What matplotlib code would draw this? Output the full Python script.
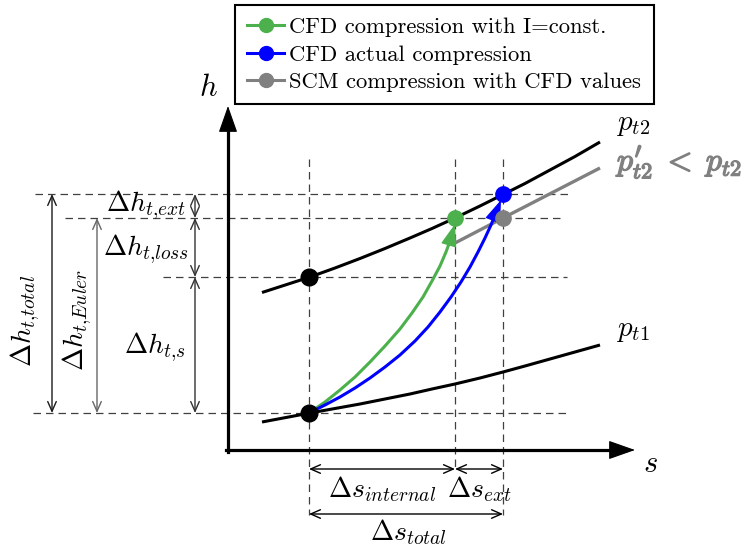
import matplotlib
matplotlib.use("Agg")
import matplotlib.pyplot as plt
from matplotlib.lines import Line2D
import matplotlib.patheffects as pe

plt.rcParams['mathtext.fontset'] = 'cm'

# ---- diagram data (image coordinates: s to the right, h downward in pixels) ----
# isobar p_t1
pt1_s = [262, 310, 335, 360, 385, 410, 432, 455, 480, 503, 525, 550, 575, 600]
pt1_h = [422, 413, 408.5, 404, 399, 394, 389, 384, 378, 372, 366, 359, 352, 345]
# isobar p_t2
pt2_s = [262, 310, 335, 360, 385, 410, 432, 455, 480, 503, 525, 550, 575, 600]
pt2_h = [292.5, 277, 268, 258.5, 248.5, 238, 228.5, 218, 206, 194.5, 183.5, 170, 156.5, 142]
# reduced isobar p'_t2 (SCM)
pt2p_s = [455, 503, 600]
pt2p_h = [243, 218, 168]
# CFD compression with I=const. (green)
green_s = [309, 325, 340, 355, 370, 385, 400, 412, 423, 432, 440, 446, 450, 453]
green_h = [413, 402, 390, 377, 362, 346, 329, 313, 297, 281, 266, 252, 241, 232]
# CFD actual compression (blue)
blue_s = [309, 325, 340, 355, 370, 385, 400, 415, 428, 440, 451, 461, 470, 478, 485, 491, 495]
blue_h = [413, 405, 397, 388, 378, 367, 355, 341, 327, 312, 297, 282, 267, 252, 238, 225, 215]
# state points
black_pts_s = [309, 309]
black_pts_h = [413, 277]
green_pt = (455, 218)
blue_pt = (503, 194)
gray_pt = (503, 218)

# dashed helper lines
hdash = [(194, 35, 570), (218, 65, 565), (277, 163, 567), (413, 33, 570)]
vdash = [(309, 159, 515), (455, 159, 470), (503, 159, 515)]

GREEN = '#4CB04C'
BLUE = '#0000FF'
GRAY = '#808080'

fig = plt.figure(figsize=(7.5, 5.48), dpi=100)
ax = fig.add_axes([0, 0, 1, 1])
ax.set_xlim(0, 750)
ax.set_ylim(548, 0)
ax.axis('off')

# dashed lines
for y, x0, x1 in hdash:
    ax.plot([x0, x1], [y, y], ls=(0, (6, 4)), color='0.25', lw=0.9, zorder=1)
for x, y0, y1 in vdash:
    ax.plot([x, x], [y0, y1], ls=(0, (6, 4)), color='0.25', lw=0.9, zorder=1)

HEAD = '-|>,head_length=0.85,head_width=0.3'

def head(tip, frm, color, scale):
    ax.annotate('', xy=tip, xytext=frm,
                arrowprops=dict(arrowstyle=HEAD, lw=0.8, color=color,
                                mutation_scale=scale, shrinkA=0, shrinkB=0), zorder=5)

# axes of diagram
ax.plot([228, 228], [452, 115], color='black', lw=2.3, zorder=3)
ax.plot([226, 626], [450, 450], color='black', lw=2.3, zorder=3)
head((228, 106), (228, 130), 'black', 20)
head((635, 450), (610, 450), 'black', 20)

# isobars
ax.plot(pt1_s, pt1_h, color='black', lw=2.2, zorder=3, solid_capstyle='butt')
ax.plot(pt2_s, pt2_h, color='black', lw=2.2, zorder=3, solid_capstyle='butt')
ax.plot(pt2p_s, pt2p_h, color=GRAY, lw=2.4, zorder=3, solid_capstyle='butt')

# compression paths
ax.plot(green_s, green_h, color=GREEN, lw=2.2, zorder=4)
head((455, 224), (green_s[-2], green_h[-2]), GREEN, 17)
ax.plot(blue_s, blue_h, color=BLUE, lw=2.2, zorder=4)
head((501, 200), (blue_s[-2], blue_h[-2]), BLUE, 17)

# points
ax.plot(black_pts_s, black_pts_h, 'o', color='black', ms=12, zorder=6)
ax.plot(*green_pt, 'o', color=GREEN, ms=11, zorder=6)
ax.plot(*blue_pt, 'o', color=BLUE, ms=11, zorder=6)
ax.plot(*gray_pt, 'o', color=GRAY, ms=11, zorder=6)

# dimension arrows
def dim(p0, p1, color='black'):
    ax.annotate('', xy=p1, xytext=p0,
                arrowprops=dict(arrowstyle='<->,head_length=0.5,head_width=0.22', lw=1.0,
                                color=color, mutation_scale=14, shrinkA=0, shrinkB=0),
                zorder=2)

dim((52, 194), (52, 413), '0.1')
dim((97, 218), (97, 413), '0.4')
dim((195, 194), (195, 218), '0.2')
dim((195, 218), (195, 277), '0.2')
dim((195, 277), (195, 413), '0.2')
dim((309, 469), (455, 469))
dim((455, 469), (503, 469))
dim((309, 514), (503, 514))

FS = 20
ax.text(208, 88, r'$h$', fontsize=22, ha='center', va='center')
ax.text(650, 464, r'$s$', fontsize=22, ha='center', va='center')
ax.text(633, 330, r'$p_{t1}$', fontsize=21, ha='center', va='center')
ax.text(633, 124, r'$p_{t2}$', fontsize=21, ha='center', va='center')
ax.text(680, 162, r"$p^{\prime}_{t2}\;<\;p_{t2}$", fontsize=23, ha='center', va='center',
        color=GRAY, path_effects=[pe.withStroke(linewidth=1.0, foreground=GRAY)])

ax.text(146, 205, r'$\Delta h_{t{,}ext}$', fontsize=FS, ha='center', va='center')
ax.text(146, 249, r'$\Delta h_{t{,}loss}$', fontsize=FS, ha='center', va='center')
ax.text(155, 347, r'$\Delta h_{t{,}s}$', fontsize=FS, ha='center', va='center')
ax.text(25, 321, r'$\Delta h_{t{,}total}$', fontsize=FS, ha='center', va='center', rotation=90)
ax.text(77, 320, r'$\Delta h_{t{,}Euler}$', fontsize=FS, ha='center', va='center', rotation=90)
ax.text(382, 489, r'$\Delta s_{internal}$', fontsize=FS, ha='center', va='center')
ax.text(479, 489, r'$\Delta s_{ext}$', fontsize=FS, ha='center', va='center')
ax.text(408, 532, r'$\Delta s_{total}$', fontsize=FS, ha='center', va='center')

# legend
labels = ['CFD compression with I=const.', 'CFD actual compression',
          'SCM compression with CFD values']
colors = [GREEN, BLUE, GRAY]
handles = [Line2D([], [], color=c, lw=2.2, marker='o', ms=10) for c in colors]
leg = fig.legend(handles, labels, loc='upper left', bbox_to_anchor=(235 / 750, 1 - 5 / 548),
                 prop={'family': 'cmr10', 'size': 16.3}, frameon=True, fancybox=False,
                 framealpha=1, edgecolor='black', handlelength=1.6, handletextpad=0.25,
                 borderpad=0.55, labelspacing=0.33, borderaxespad=0)
leg.get_frame().set_linewidth(1.5)

fig.savefig('out.png', dpi=100)
